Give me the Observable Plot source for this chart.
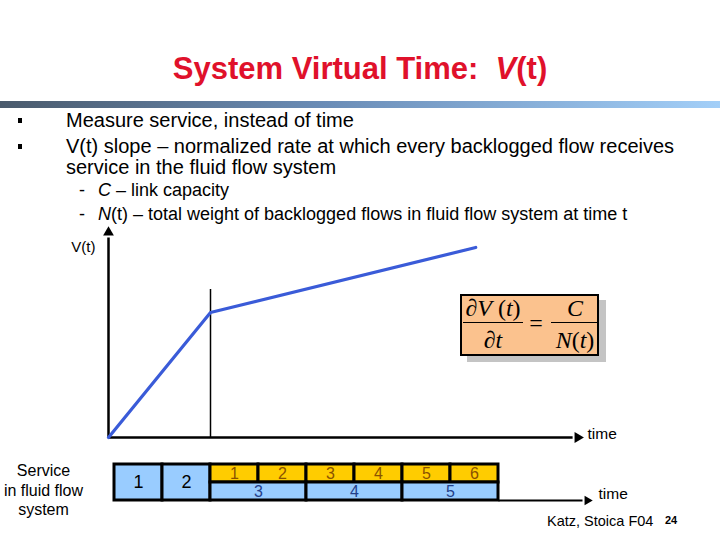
<!DOCTYPE html>
<html><head><meta charset="utf-8">
<script src="https://cdn.jsdelivr.net/npm/d3@7"></script>
<script src="https://cdn.jsdelivr.net/npm/@observablehq/plot@0.6"></script>
<style>
body{margin:0;background:#fff;}
#slide{position:relative;width:720px;height:540px;overflow:hidden;font-family:"Liberation Sans",Arial,sans-serif;color:#000;}
.abs{position:absolute;white-space:nowrap;line-height:1;}
.plot{position:absolute;left:0;top:0;}
.sq{position:absolute;width:4px;height:5px;background:#000;}
.f{position:absolute;font-family:"Liberation Serif","Times New Roman",serif;font-size:24px;line-height:1;white-space:nowrap;transform:translateX(-50%);}
.fl{position:absolute;height:1.3px;background:#000;}
</style></head><body>
<div id="slide">
  <div class="abs" style="left:0;width:720px;text-align:center;top:53px;font-size:31px;font-weight:bold;color:#e0112b;">System Virtual Time:&nbsp; <i>V</i>(t)</div>
  <div class="abs" style="left:0;top:101px;width:720px;height:7px;background:linear-gradient(90deg,#4a5a6c 0%,#6a8cb6 45%,#a3cff8 100%);"></div>

  <div class="sq" style="left:18px;top:118px;"></div>
  <div class="abs" style="left:66px;top:110px;font-size:20px;">Measure service, instead of time</div>
  <div class="sq" style="left:18px;top:144px;"></div>
  <div class="abs" style="left:66px;top:136px;font-size:20px;">V(t) slope – normalized rate at which every backlogged flow receives</div>
  <div class="abs" style="left:66px;top:156.5px;font-size:20px;">service in the fluid flow system</div>
  <div class="abs" style="left:79px;top:181px;font-size:18px;">-</div>
  <div class="abs" style="left:98px;top:181px;font-size:18px;"><i>C</i> – link capacity</div>
  <div class="abs" style="left:79px;top:205px;font-size:18px;">-</div>
  <div class="abs" style="left:98px;top:205px;font-size:18px;"><i>N</i>(t) – total weight of backlogged flows in fluid flow system at time t</div>

  <div id="chart"></div>
  <div id="bar"></div>

  <div class="abs" style="left:460px;top:294px;width:139px;height:62px;box-sizing:border-box;border:2.5px solid #000;background:#fbc28e;box-shadow:7px 6px 0 #c4c4c4;"></div>
  <div class="f" style="left:493px;top:296px;"><i>∂V</i> (<i>t</i>)</div>
  <div class="fl" style="left:463px;top:322px;width:60px;"></div>
  <div class="f" style="left:493px;top:328px;"><i>∂t</i></div>
  <div class="f" style="left:536px;top:311px;">=</div>
  <div class="f" style="left:575px;top:296px;"><i>C</i></div>
  <div class="fl" style="left:551px;top:322px;width:46px;"></div>
  <div class="f" style="left:575px;top:328px;"><i>N</i>(<i>t</i>)</div>

  <div class="abs" style="left:547px;top:514px;font-size:14.5px;">Katz, Stoica F04</div>
  <div class="abs" style="left:665px;top:514.5px;font-size:11px;font-weight:bold;">24</div>
</div>
<script>
// V(t) curve (time units, virtual-time units)
const curveT = [0, 2, 7.2];
const curveV = [0, 2.5, 3.8];
const breakT = [2];
const breakTop = [2.96];
const yAxisTop = 4.1;
const xAxisEnd = 9.2;

// fluid-flow service bar
const soloLabels = ["1", "2"];
const soloStart = [0, 1];
const soloEnd = [1, 2];
const topLabels = ["1", "2", "3", "4", "5", "6"];
const topStart = [2, 3, 4, 5, 6, 7];
const topEnd = [3, 4, 5, 6, 7, 8];
const bottomLabels = ["3", "4", "5"];
const bottomStart = [2, 4, 6];
const bottomEnd = [4, 6, 8];
const barAxisStart = 8;
const barAxisEnd = 9.85;

const font = "Liberation Sans, Arial, sans-serif";

const curve = curveT.map((t, i) => ({t, v: curveV[i]}));
const chart = Plot.plot({
  width: 720, height: 540,
  marginLeft: 108, marginRight: 102, marginTop: 237, marginBottom: 103,
  x: {domain: [0, 10], axis: null},
  y: {domain: [0, 4], axis: null},
  style: {fontFamily: font, background: "transparent", overflow: "visible"},
  marks: [
    Plot.link([{x1: 0, y1: 0, x2: 0, y2: yAxisTop - 0.1}], {x1: "x1", y1: "y1", x2: "x2", y2: "y2", stroke: "black", strokeWidth: 2.5}),
    Plot.dot([{x: 0, y: yAxisTop}], {x: "x", y: "y", symbol: "triangle", r: 4, fill: "black", stroke: null}),
    Plot.link([{x1: 0, y1: 0, x2: xAxisEnd - 0.1, y2: 0}], {x1: "x1", y1: "y1", x2: "x2", y2: "y2", stroke: "black", strokeWidth: 2.5}),
    Plot.dot([{x: xAxisEnd, y: 0}], {x: "x", y: "y", symbol: "triangle", r: 4, fill: "black", stroke: null, rotate: 90}),
    Plot.ruleX(breakT.map((t, i) => ({t, top: breakTop[i]})), {x: "t", y1: 0, y2: "top", stroke: "black", strokeWidth: 1.5}),
    Plot.line(curve, {x: "t", y: "v", stroke: "#3a5bd8", strokeWidth: 3.2}),
    Plot.text(["V(t)"], {frameAnchor: "top-left", textAnchor: "end", dx: -13, dy: 4, fontSize: 15, fill: "black"}),
    Plot.text(["time"], {frameAnchor: "bottom-right", textAnchor: "start", dx: -31, dy: 1, fontSize: 15.5, fill: "black"})
  ]
});
chart.classList.add("plot");
document.getElementById("chart").appendChild(chart);

const solo = soloLabels.map((l, i) => ({l, s: soloStart[i], e: soloEnd[i]}));
const topRow = topLabels.map((l, i) => ({l, s: topStart[i], e: topEnd[i]}));
const bottomRow = bottomLabels.map((l, i) => ({l, s: bottomStart[i], e: bottomEnd[i]}));
const mid = d => (d.s + d.e) / 2;
const bar = Plot.plot({
  width: 720, height: 540,
  marginLeft: 114, marginRight: 126, marginTop: 464, marginBottom: 40,
  x: {domain: [0, 10], axis: null},
  y: {domain: [0, 2], axis: null},
  style: {fontFamily: font, background: "transparent", overflow: "visible"},
  marks: [
    Plot.link([{x1: barAxisStart, x2: barAxisEnd - 0.1}], {x1: "x1", x2: "x2", y1: 0, y2: 0, stroke: "black", strokeWidth: 2}),
    Plot.dot([{x: barAxisEnd}], {x: "x", y: 0, symbol: "triangle", r: 3.5, fill: "black", stroke: null, rotate: 90}),
    Plot.rect(solo, {x1: "s", x2: "e", y1: 0, y2: 2, fill: "#99ccff", stroke: "black", strokeWidth: 3}),
    Plot.rect(topRow, {x1: "s", x2: "e", y1: 1, y2: 2, fill: "#ffcc00", stroke: "black", strokeWidth: 3}),
    Plot.rect(bottomRow, {x1: "s", x2: "e", y1: 0, y2: 1, fill: "#99ccff", stroke: "black", strokeWidth: 3}),
    Plot.text(solo, {x: mid, y: 1, text: "l", fontSize: 18, fontWeight: (d) => d.l === "2" ? "bold" : "normal", fill: "black"}),
    Plot.text(topRow, {x: mid, y: 1.5, text: "l", fontSize: 16, fill: "#8a5200"}),
    Plot.text(bottomRow, {x: mid, y: 0.5, text: "l", fontSize: 16, fill: "#23408a"}),
    Plot.text(["time"], {frameAnchor: "bottom-right", textAnchor: "start", dx: 4, dy: -2, fontSize: 15.5, fill: "black"}),
    Plot.text(["Service\nin fluid flow\nsystem"], {frameAnchor: "left", textAnchor: "middle", dx: -71, dy: 7, fontSize: 16, lineHeight: 1.22, fill: "black"})
  ]
});
bar.classList.add("plot");
document.getElementById("bar").appendChild(bar);
</script>
</body></html>
